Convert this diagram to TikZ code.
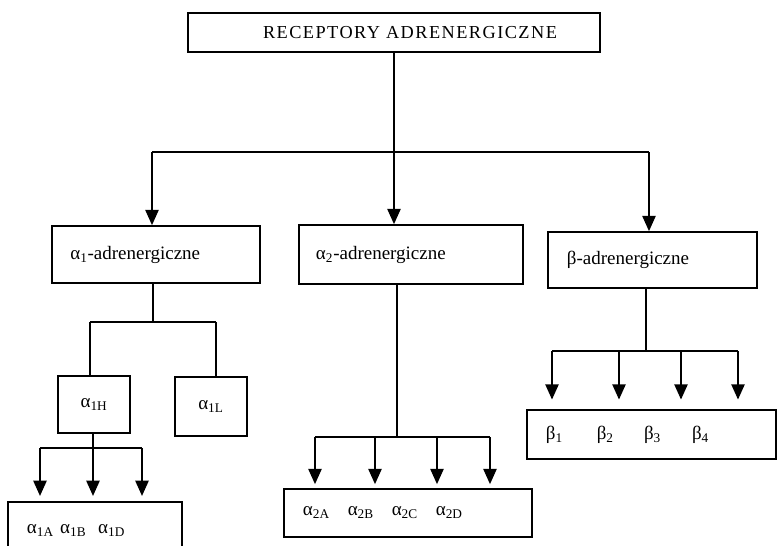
\documentclass[tikz,border=0pt]{standalone}
\usepackage{fontspec}
\setmainfont{Liberation Serif}
\usetikzlibrary{arrows.meta}

\tikzset{
  box/.style={draw,rectangle,inner sep=0pt},
  lbox/.style={box,align=left,inner xsep=0.46cm},
  arr/.style={-{Triangle[width=0.33cm,length=0.38cm]}},
}

\begin{document}
\begin{tikzpicture}[x=0.025cm,y=-0.025cm,line width=1.2pt,font=\fontsize{13.5}{15}\selectfont]
        \useasboundingbox (0,0) rectangle (778,546);

        % top level
        \node[box,minimum width=10.3cm,minimum height=0.975cm,
              font=\fontsize{13}{15}\selectfont\addfontfeature{LetterSpace=8}]
          (top) at (394,32.5) {\hspace*{0.8cm}RECEPTORY ADRENERGICZNE};

        % three families
        \node[lbox,text width=4.28cm,minimum height=1.425cm] (a1) at (156,254.5)
          {α\textsubscript{1}-adrenergiczne};
        \node[lbox,text width=4.75cm,minimum height=1.475cm,inner xsep=0.425cm] (a2) at (411,254.5)
          {α\textsubscript{2}-adrenergiczne};
        \node[lbox,text width=4.275cm,minimum height=1.4cm,inner xsep=0.475cm] (b) at (652.5,260)
          {β-adrenergiczne};

        % alpha 1 subtypes
        \node[box,minimum width=1.8cm,minimum height=1.425cm] (a1h) at (94,404.5) {α\textsubscript{1H}};
        \node[box,minimum width=1.8cm,minimum height=1.475cm] (a1l) at (211,406.5) {α\textsubscript{1L}};

        % leaves
        \node[lbox,text width=3.4cm,minimum height=1.45cm,inner xsep=0.475cm] (a1leaf) at (95,531)
          {\makebox[0.83cm][l]{α\textsubscript{1A}}\makebox[0.95cm][l]{α\textsubscript{1B}}α\textsubscript{1D}};
        \node[lbox,text width=5.25cm,minimum height=1.2cm,inner xsep=0.475cm] (a2leaf) at (408,513)
          {\makebox[1.12cm][l]{α\textsubscript{2A}}\makebox[1.1cm][l]{α\textsubscript{2B}}\makebox[1.1cm][l]{α\textsubscript{2C}}α\textsubscript{2D}};
        \node[lbox,text width=5.275cm,minimum height=1.225cm,inner xsep=0.475cm] (bleaf) at (651.5,434.5)
          {\makebox[1.27cm][l]{β\textsubscript{1}}\makebox[1.18cm][l]{β\textsubscript{2}}\makebox[1.2cm][l]{β\textsubscript{3}}β\textsubscript{4}};

        % main branching
        \coordinate (b1) at (152,152);
        \coordinate (b3) at (649,152);
        \draw (top.south) -- (top.south |- b1);
        \draw (b1) -- (b3);
        \draw[arr] (b1) -- (b1 |- a1.north);
        \draw[arr] (top.south |- b1) -- (top.south |- a2.north);
        \draw[arr] (b3) -- (b3 |- b.north);

        % alpha 1 -> 1H / 1L
        \coordinate (s1) at (153,322);
        \coordinate (sL) at (90,322);
        \coordinate (sR) at (216,322);
        \draw (s1 |- a1.south) -- (s1);
        \draw (sL) -- (sR);
        \draw (sL) -- (sL |- a1h.north);
        \draw (sR) -- (sR |- a1l.north);

        % alpha 1H -> leaves
        \coordinate (hL) at (40,448);
        \coordinate (hM) at (93,448);
        \coordinate (hR) at (142,448);
        \draw (hM |- a1h.south) -- (hM);
        \draw (hL) -- (hR);
        \foreach \c in {hL,hM,hR}
          \draw[arr,shorten >=0.13cm] (\c) -- (\c |- a1leaf.north);

        % alpha 2 -> leaves
        \coordinate (mT) at (397,437);
        \coordinate (m1) at (315,437);
        \coordinate (m2) at (375,437);
        \coordinate (m3) at (437,437);
        \coordinate (m4) at (490,437);
        \draw (mT |- a2.south) -- (mT);
        \draw (m1) -- (m4);
        \foreach \c in {m1,m2,m3,m4}
          \draw[arr,shorten >=0.1cm] (\c) -- (\c |- a2leaf.north);

        % beta -> leaves
        \coordinate (bT) at (646,351);
        \coordinate (n1) at (552,351);
        \coordinate (n2) at (619,351);
        \coordinate (n3) at (681,351);
        \coordinate (n4) at (738,351);
        \draw (bT |- b.south) -- (bT);
        \draw (n1) -- (n4);
        \foreach \c in {n1,n2,n3,n4}
          \draw[arr,shorten >=0.24cm] (\c) -- (\c |- bleaf.north);
      \end{tikzpicture}
\end{document}
